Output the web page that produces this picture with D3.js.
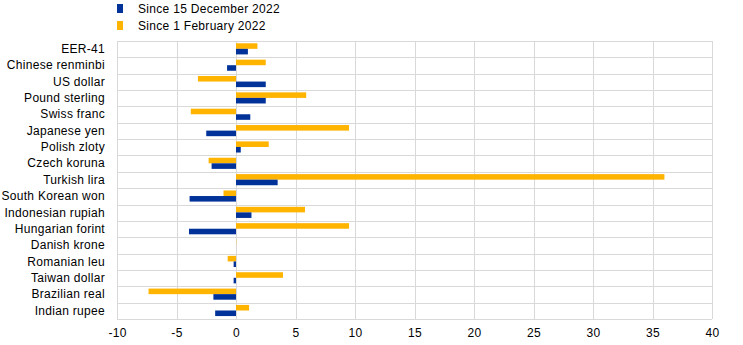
<!DOCTYPE html>
<html>
<head>
<meta charset="utf-8">
<script src="https://cdn.jsdelivr.net/npm/d3@7"></script>
<style>
  html, body { margin: 0; padding: 0; background: #fff; }
  svg { display: block; font-family: "Liberation Sans", Arial, sans-serif; }
  text { letter-spacing: 0.3px; }
</style>
</head>
<body>
<svg id="chart" width="743" height="345"></svg>
<script>
const categories = ["EER-41", "Chinese renminbi", "US dollar", "Pound sterling", "Swiss franc",
  "Japanese yen", "Polish zloty", "Czech koruna", "Turkish lira", "South Korean won",
  "Indonesian rupiah", "Hungarian forint", "Danish krone", "Romanian leu", "Taiwan dollar",
  "Brazilian real", "Indian rupee"];
const sinceDec2022 = [1.0, -0.75, 2.5, 2.5, 1.2, -2.5, 0.4, -2.05, 3.5, -3.9, 1.3, -3.95, 0.0, -0.2, -0.2, -1.9, -1.75];
const sinceFeb2022 = [1.8, 2.5, -3.2, 5.9, -3.8, 9.5, 2.75, -2.3, 36.0, -1.05, 5.8, 9.5, 0.02, -0.7, 3.95, -7.35, 1.1];
const seriesNames = ["Since 15 December 2022", "Since 1 February 2022"];
const xTicks = [-10, -5, 0, 5, 10, 15, 20, 25, 30, 35, 40];

const colors = { dec: "#003299", feb: "#ffb400", grid: "#d9d9d9", text: "#000" };

const svg = d3.select("#chart");
const m = { left: 117, right: 712, top: 41, bottom: 319 };

const x = d3.scaleLinear().domain([-10, 40]).range([m.left, m.right]);
const y = d3.scaleBand().domain(categories).range([m.top, m.bottom]);
const bw = y.bandwidth();
const bh = bw * 0.34;
const off = bw * 0.14;

// grid
const g = svg.append("g");
g.selectAll(".vg").data(xTicks).join("line")
  .attr("x1", d => Math.round(x(d)) + 0.5).attr("x2", d => Math.round(x(d)) + 0.5)
  .attr("y1", m.top).attr("y2", m.bottom)
  .attr("stroke", colors.grid).attr("stroke-width", 1);
const hLines = categories.map(c => y(c)).concat([m.bottom]);
g.selectAll(".hg").data(hLines).join("line")
  .attr("x1", m.left).attr("x2", m.right)
  .attr("y1", d => Math.round(d) + 0.5).attr("y2", d => Math.round(d) + 0.5)
  .attr("stroke", colors.grid).attr("stroke-width", 1);

// bars
const rows = categories.map((c, i) => ({ c, dec: sinceDec2022[i], feb: sinceFeb2022[i] }));
svg.append("g").selectAll("rect").data(rows).join("rect")
  .attr("x", d => x(Math.min(0, d.feb)))
  .attr("width", d => Math.abs(x(d.feb) - x(0)))
  .attr("y", d => y(d.c) + off)
  .attr("height", bh)
  .attr("fill", colors.feb);
svg.append("g").selectAll("rect").data(rows).join("rect")
  .attr("x", d => x(Math.min(0, d.dec)))
  .attr("width", d => Math.abs(x(d.dec) - x(0)))
  .attr("y", d => y(d.c) + off + bh)
  .attr("height", bh)
  .attr("fill", colors.dec);

// x axis labels
const xAxis = d3.axisBottom(x).tickValues(xTicks).tickSize(0).tickPadding(9).tickFormat(d => String(d));
const xa = svg.append("g").attr("transform", `translate(0,${m.bottom})`).call(xAxis);
xa.select(".domain").remove();
xa.selectAll("text").attr("font-size", 12).attr("fill", colors.text)
  .attr("font-family", "Liberation Sans, Arial, sans-serif");

// y axis labels
const yAxis = d3.axisLeft(y).tickSize(0).tickPadding(12);
const ya = svg.append("g").attr("transform", `translate(${m.left},0)`).call(yAxis);
ya.select(".domain").remove();
ya.selectAll("text").attr("font-size", 12).attr("fill", colors.text)
  .attr("font-family", "Liberation Sans, Arial, sans-serif");

// legend
const legend = svg.append("g");
const legItems = [{ n: seriesNames[0], c: colors.dec, y: 4 }, { n: seriesNames[1], c: colors.feb, y: 21 }];
legItems.forEach(it => {
  legend.append("rect").attr("x", 117).attr("y", it.y).attr("width", 6).attr("height", 9).attr("fill", it.c);
  legend.append("text").attr("x", 138).attr("y", it.y + 4.5).attr("dy", "0.35em")
    .attr("font-size", 12).attr("fill", colors.text).text(it.n);
});
</script>
</body>
</html>
